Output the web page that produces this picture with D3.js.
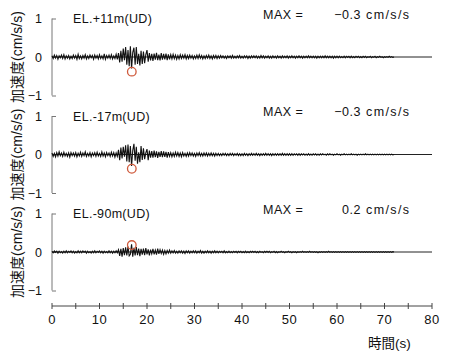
<!DOCTYPE html>
<html><head><meta charset="utf-8">
<script src="https://cdn.jsdelivr.net/npm/d3@7"></script>
<style>
html,body{margin:0;padding:0;background:#fff;}
text{font-family:"Liberation Sans","Noto Sans CJK JP",sans-serif;fill:#111;}
</style></head>
<body><svg id="c" width="456" height="353"></svg>
<script>
// ---- data ----
const stations = ["EL.+11m(UD)", "EL.-17m(UD)", "EL.-90m(UD)"];
const maxValues = ["-0.3", "-0.3", "0.2"];
const maxUnit = "cm/s/s";
const peakTimes = [16.8, 16.8, 16.8];
const peakMarks = [-0.38, -0.37, 0.18];
const dt = 0.25; // s, sampling interval of the listed traces (values in 0.01 cm/s/s)
const trace11 = [
3,-4,5,-3,4,-6,3,-2,5,-4,6,-5,3,-3,4,-5,2,-4,5,-3,
4,-6,7,-4,3,-5,4,-3,6,-5,3,-4,5,-2,4,-6,5,-3,4,-5,
6,-4,3,-5,8,-6,4,-3,5,-4,6,-5,3,-4,7,-6,
10,-14,16,-12,
22,-8,26,-20,18,-24,28,-30,12,24,-20,26,-18,8,-22,16,
-18,14,-16,6,18,-12,10,-9,
8,-10,9,-7,11,-8,6,-9,10,-7,8,-6,9,-8,7,-6,
6,-5,7,-4,5,-6,4,-5,6,-4,5,-3,6,-5,4,-4,5,-3,4,-5,
3,-4,5,-4,6,-3,4,-5,3,-4,4,-3,5,-4,3,-5,4,-3,4,-4,
3,-3,4,-2,3,-3,2,-4,3,-2,3,-3,4,-3,2,-3,3,-2,4,-3,
2,-3,3,-2,3,-4,2,-3,3,-2,3,-2,3,-3,2,-3,4,-2,3,-3,
2,-2,3,-3,2,-3,3,-2,2,-3,3,-2,2,-3,3,-2,2,-2,3,-3,
2,-2,3,-2,2,-3,2,-2,3,-2,2,-3,2,-2,2,-2,3,-2,2,-2,
2,-2,2,-3,2,-2,2,-2,2,-2,3,-2,2,-2,2,-2,2,-3,2,-2,
2,-2,2,-2,1,-2,2,-2,2,-1,2,-2,2,-2,1,-2,2,-1,2,-2,
1,-2,2,-1,2,-2,1,-1,2,-2,1,-1,2,-2,1,-1,2,-1,1,-2,
1,-1,1,-1,2,-1,1,-1,0];
const trace17 = [
4,-5,3,-6,5,-4,7,-3,4,-5,6,-4,3,-5,4,-7,5,-3,4,-4,
5,-6,3,-4,6,-5,4,-3,7,-5,3,-4,5,-6,4,-3,5,-5,6,-4,
3,-5,7,-4,4,-6,5,-3,4,-5,6,-4,5,-7,4,-5,
12,-15,18,-10,
20,-6,24,-18,26,-20,22,-30,10,28,-16,20,-24,6,-20,22,
-14,16,-12,4,14,-15,10,-8,
9,-8,10,-7,8,-9,7,-6,9,-7,8,-6,7,-8,6,-5,
5,-6,4,-5,6,-4,5,-5,4,-6,5,-4,3,-5,4,-4,5,-3,4,-4,
3,-5,4,-3,5,-4,3,-4,4,-3,4,-4,3,-3,4,-3,3,-4,3,-3,
3,-3,2,-3,3,-2,3,-3,2,-3,3,-2,3,-3,2,-2,3,-3,2,-3,
2,-3,3,-2,2,-3,2,-2,3,-2,2,-2,3,-2,2,-3,2,-2,2,-2,
3,-2,2,-2,2,-3,2,-2,2,-2,2,-2,2,-2,3,-2,2,-2,2,-2,
2,-2,2,-2,2,-1,2,-2,2,-2,2,-1,2,-2,1,-2,2,-2,1,-2,
2,-1,2,-2,1,-2,2,-1,2,-1,1,-2,2,-1,2,-1,1,-2,1,-1,
2,-1,1,-2,1,-1,2,-1,1,-1,1,-1,2,-1,1,-1,1,-2,1,-1,
1,-1,1,-1,2,-1,1,-1,1,-1,1,-1,1,-1,1,-1,1,-1,1,-1,
1,-1,1,-1,1,-1,1,-1,0];
const trace90 = [
2,-2,3,-1,2,-3,2,-2,1,-3,2,-2,3,-2,2,-1,3,-2,2,-3,
1,-2,3,-2,2,-2,3,-1,2,-3,2,-2,1,-3,2,-2,3,-2,2,-1,
3,-2,2,-3,2,-2,1,-2,3,-2,2,-3,2,-2,3,-2,
6,-10,8,-12,
10,-8,12,-9,14,-10,-6,20,-12,11,-9,13,-8,9,-11,8,
-7,9,-8,10,-6,7,-9,6,
-5,8,-6,5,-7,9,-5,6,-4,5,-6,4,-5,4,-3,5,
-3,3,-2,4,-3,2,-3,3,-2,3,-3,2,-4,3,-2,3,-3,2,-2,3,
-2,3,-3,2,-2,4,-3,2,-3,2,-2,3,-2,2,-3,2,-2,3,-2,2,
-2,2,-1,2,-2,3,-2,1,-2,2,-2,1,-2,2,-1,2,-2,2,-1,2,
-2,1,-2,2,-2,1,-2,2,-1,2,-1,2,-2,1,-2,2,-1,1,-2,2,
-1,2,-1,2,-2,1,-1,2,-2,1,-2,1,-1,2,-1,1,-2,1,-1,2,
-1,1,-2,1,-1,1,-2,1,-1,1,-1,2,-1,1,-1,1,-1,2,-1,1,
-1,1,-1,1,-2,1,-1,1,-1,1,-1,1,-1,2,-1,1,-1,1,-1,1,
-1,1,-1,1,-1,1,-1,1,-1,1,-1,1,-1,1,-1,1,-1,1,-1,1,
-1,1,-1,1,-1,1,-1,1,-1,1,-1,1,-1,1,-1,1,-1,1,-1,1,
-1,1,-1,1,-1,1,-1,1,0];
const traces = [trace11, trace17, trace90];
const xTicks = [0, 10, 20, 30, 40, 50, 60, 70, 80];
const xMinorTicks = d3.range(0, 81, 5);
const yTicks = [-1, 0, 1];
const xTitle = "時間(s)";
const yTitle = "加速度(cm/s/s)";

// ---- layout ----
const svg = d3.select("#c");
const x = d3.scaleLinear().domain([0, 80]).range([52, 432]);
const zeroY = [57, 154.5, 252];
const half = 38.5;
const circleColor = "#cf5a3c";

traces.forEach((tr, p) => {
  const y = d3.scaleLinear().domain([-1, 1]).range([zeroY[p] + half, zeroY[p] - half]);
  const g = svg.append("g");
  // y axis
  const ax = g.append("g").attr("transform", `translate(${x(0)},0)`)
    .call(d3.axisLeft(y).tickValues(yTicks).tickSize(-4).tickPadding(10).tickFormat(d3.format("d")));
  ax.select(".domain").attr("stroke", "#777").attr("d", `M0,${y(1)}V${y(-1)}`);
  ax.selectAll(".tick line").attr("stroke", "#777");
  ax.selectAll(".tick text").attr("font-size", 12.5).attr("fill", "#111")
    .attr("font-family", "Liberation Sans, sans-serif").text(d => d < 0 ? "−" + Math.abs(d) : d);
  // baseline
  g.append("line").attr("x1", x(0)).attr("x2", x(80)).attr("y1", y(0)).attr("y2", y(0))
    .attr("stroke", "#222").attr("stroke-width", 1);
  // trace
  const line = d3.line().x((d, i) => x(i * dt)).y(d => y(d / 100));
  g.append("path").datum(tr).attr("d", line).attr("fill", "none")
    .attr("stroke", "#111").attr("stroke-width", 1.1);
  // peak marker
  g.append("circle").attr("cx", x(peakTimes[p])).attr("cy", y(peakMarks[p])).attr("r", 4.3)
    .attr("fill", "none").attr("stroke", circleColor).attr("stroke-width", 1.3);
  // labels
  g.append("text").attr("x", 73).attr("y", y(1)).attr("dy", "0.36em")
    .attr("font-size", 12.5).attr("letter-spacing", 0.3).text(stations[p]);
  g.append("text").attr("x", 263).attr("y", zeroY[p] - 43).attr("dy", "0.36em")
    .attr("font-size", 12.5).attr("letter-spacing", 0.5).text("MAX =");
  g.append("text").attr("x", 361).attr("y", zeroY[p] - 43).attr("dy", "0.36em")
    .attr("text-anchor", "end").attr("font-size", 12.5).attr("letter-spacing", 0.5)
    .text(maxValues[p].replace("-", "−"));
  g.append("text").attr("x", 366).attr("y", zeroY[p] - 43).attr("dy", "0.36em")
    .attr("font-size", 12.5).attr("letter-spacing", 1.4).text(maxUnit);
  // y title
  g.append("text").attr("transform", `translate(17,${zeroY[p]}) rotate(-90)`)
    .attr("text-anchor", "middle").attr("dy", "0.36em").attr("font-size", 14)
    .text(yTitle);
});

// x axis
const xa = svg.append("g").attr("transform", "translate(0,306)");
xa.append("line").attr("x1", x(0)).attr("x2", x(80)).attr("stroke", "#444");
xa.selectAll(".mt").data(xMinorTicks).join("line")
  .attr("x1", d => x(d)).attr("x2", d => x(d)).attr("y1", -3).attr("y2", 3)
  .attr("stroke", "#444");
xa.selectAll(".tl").data(xTicks).join("text")
  .attr("x", d => x(d)).attr("y", 13).attr("dy", "0.36em").attr("text-anchor", "middle")
  .attr("font-size", 13).attr("letter-spacing", 0.5).text(d => d);
svg.append("text").attr("x", 368).attr("y", 343).attr("dy", "0.36em")
  .attr("font-size", 13.5).text(xTitle);
</script></body></html>
